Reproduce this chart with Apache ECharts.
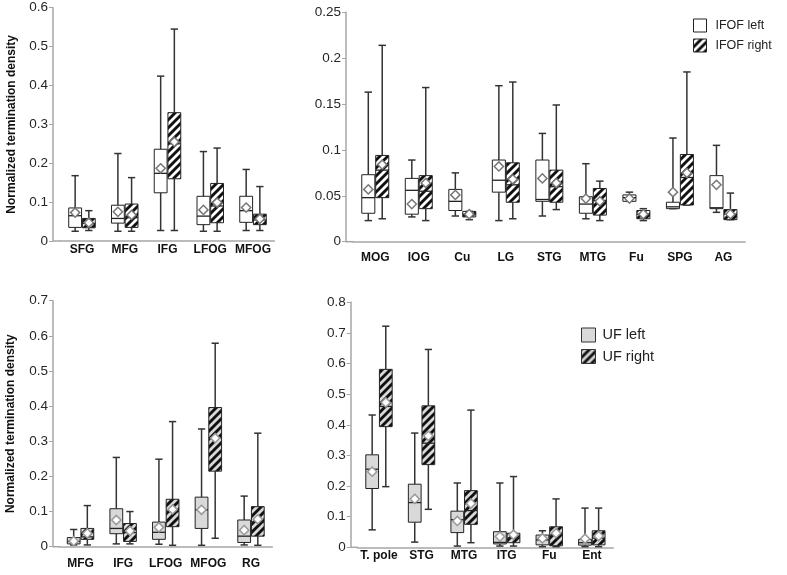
<!DOCTYPE html>
<html>
<head>
<meta charset="utf-8">
<script src="https://cdn.jsdelivr.net/npm/echarts@6/dist/echarts.min.js"></script>
<style>
html,body{margin:0;padding:0;background:#fff;}
#chart{width:787px;height:575px;}
</style>
</head>
<body>
<div id="chart"></div>
<script>
// ---- data: each row is [min, q1, median, q3, max, mean] ----
const cats1 = ['SFG','MFG','IFG','LFOG','MFOG'];
const ifofLeft1 = [
  [0.025,0.035,0.065,0.085,0.168,0.073],
  [0.025,0.046,0.058,0.092,0.225,0.075],
  [0.027,0.124,0.174,0.236,0.424,0.187],
  [0.025,0.042,0.064,0.115,0.230,0.080],
  [0.027,0.048,0.078,0.115,0.184,0.086]
];
const ifofRight1 = [
  [0.027,0.034,0.045,0.058,0.078,0.047],
  [0.025,0.035,0.060,0.095,0.163,0.067],
  [0.027,0.160,0.250,0.330,0.545,0.255],
  [0.025,0.047,0.090,0.148,0.239,0.099],
  [0.027,0.042,0.054,0.069,0.140,0.057]
];

const cats2 = ['MOG','IOG','Cu','LG','STG','MTG','Fu','SPG','AG'];
const ifofLeft2 = [
  [0.023,0.031,0.048,0.073,0.163,0.057],
  [0.027,0.030,0.056,0.069,0.089,0.041],
  [0.028,0.034,0.044,0.057,0.075,0.051],
  [0.023,0.054,0.067,0.089,0.170,0.082],
  [0.028,0.044,0.046,0.089,0.118,0.069],
  [0.025,0.031,0.041,0.049,0.085,0.047],
  [0.044,0.044,0.048,0.051,0.054,0.047],
  [0.036,0.036,0.038,0.043,0.113,0.054],
  [0.032,0.036,0.037,0.072,0.105,0.062]
];
const ifofRight2 = [
  [0.025,0.048,0.078,0.094,0.214,0.084],
  [0.023,0.036,0.055,0.072,0.168,0.064],
  [0.024,0.027,0.030,0.033,0.033,0.030],
  [0.025,0.043,0.062,0.086,0.174,0.068],
  [0.035,0.043,0.060,0.078,0.149,0.064],
  [0.023,0.029,0.045,0.058,0.066,0.044],
  [0.023,0.025,0.030,0.034,0.036,0.030],
  [0.040,0.040,0.070,0.095,0.185,0.075],
  [0.024,0.024,0.030,0.035,0.053,0.030]
];

const cats3 = ['MFG','IFG','LFOG','MFOG','RG'];
const ufLeft3 = [
  [0.005,0.008,0.015,0.026,0.049,0.016],
  [0.008,0.037,0.052,0.108,0.254,0.076],
  [0.007,0.021,0.041,0.070,0.249,0.055],
  [0.004,0.052,0.105,0.141,0.335,0.105],
  [0.005,0.012,0.030,0.076,0.144,0.047]
];
const ufRight3 = [
  [0.005,0.021,0.028,0.052,0.117,0.038],
  [0.008,0.015,0.040,0.066,0.100,0.045],
  [0.004,0.057,0.100,0.135,0.356,0.106],
  [0.024,0.215,0.310,0.396,0.579,0.309],
  [0.004,0.030,0.070,0.114,0.323,0.078]
];

const cats4 = ['T. pole','STG','MTG','ITG','Fu','Ent'];
const ufLeft4 = [
  [0.057,0.192,0.255,0.302,0.432,0.247],
  [0.017,0.082,0.146,0.206,0.373,0.158],
  [0.004,0.048,0.090,0.118,0.210,0.086],
  [0.004,0.011,0.016,0.051,0.210,0.035],
  [0.002,0.008,0.024,0.040,0.054,0.029],
  [0.002,0.007,0.015,0.026,0.128,0.028]
];
const ufRight4 = [
  [0.198,0.394,0.460,0.581,0.722,0.473],
  [0.124,0.270,0.340,0.462,0.646,0.364],
  [0.015,0.075,0.120,0.185,0.448,0.143],
  [0.004,0.015,0.030,0.046,0.231,0.041],
  [0.002,0.005,0.040,0.067,0.158,0.046],
  [0.002,0.008,0.030,0.054,0.128,0.037]
];

const yMax = [0.6, 0.25, 0.7, 0.8];
const yStep = [0.1, 0.05, 0.1, 0.1];
const yTitle = 'Normalized termination density';

// ---- styling helpers ----
const FONT = '"Liberation Sans", Arial, sans-serif';
const AXIS_GRAY = '#a6a6a6';
const UF_GRAY = '#d9d9d9';

function makeHatch(bg) {
  const s = 8;
  const c = document.createElement('canvas');
  c.width = s; c.height = s;
  const g = c.getContext('2d');
  g.fillStyle = bg; g.fillRect(0, 0, s, s);
  g.strokeStyle = '#111'; g.lineWidth = 2.9;
  g.beginPath();
  g.moveTo(0, s); g.lineTo(s, 0);
  g.moveTo(-s/2, s/2); g.lineTo(s/2, -s/2);
  g.moveTo(s/2, s*1.5); g.lineTo(s*1.5, s/2);
  g.stroke();
  return { image: c, repeat: 'repeat' };
}
const hatchWhite = makeHatch('#ffffff');
const hatchGray = makeHatch(UF_GRAY);

function toItems(rows) {
  return rows.map((r, i) => [i].concat(r));
}

function makeRender(side, fill, diamondStroke) {
  return function (params, api) {
    const idx = api.value(0);
    const v = [1,2,3,4,5,6].map(k => api.value(k));
    const base = api.coord([idx, 0]);
    const band = api.size([1, 0])[0];
    const cx = base[0] + side * band * 0.16;
    const bw = band * 0.30;
    const cap = band * 0.17;
    const Y = val => api.coord([idx, val])[1];
    const yMin = Y(v[0]), yQ1 = Y(v[1]), yMed = Y(v[2]), yQ3 = Y(v[3]), yMx = Y(v[4]), yMean = Y(v[5]);
    const wStyle = { stroke: '#333', lineWidth: 1.5 };
    const r = 4.6;
    return {
      type: 'group',
      children: [
        { type: 'line', shape: { x1: cx, y1: yMin, x2: cx, y2: yQ1 }, style: wStyle },
        { type: 'line', shape: { x1: cx, y1: yQ3, x2: cx, y2: yMx }, style: wStyle },
        { type: 'line', shape: { x1: cx - cap/2, y1: yMx, x2: cx + cap/2, y2: yMx }, style: wStyle },
        { type: 'line', shape: { x1: cx - cap/2, y1: yMin, x2: cx + cap/2, y2: yMin }, style: wStyle },
        { type: 'rect', shape: { x: cx - bw/2, y: yQ3, width: bw, height: Math.max(yQ1 - yQ3, 1) },
          style: { fill: fill, stroke: '#222', lineWidth: 1 } },
        { type: 'line', shape: { x1: cx - bw/2, y1: yMed, x2: cx + bw/2, y2: yMed }, style: { stroke: '#222', lineWidth: 1.3 } },
        { type: 'polygon', shape: { points: [[cx, yMean - r], [cx + r, yMean], [cx, yMean + r], [cx - r, yMean]] },
          style: { fill: '#fff', stroke: diamondStroke, lineWidth: 1.5 } }
      ]
    };
  };
}

const grids = [
  { left: 60.6, top: 7.7, width: 213.8, height: 233.3 },
  { left: 353.5, top: 12.3, width: 391.7, height: 229.4 },
  { left: 59.2, top: 300.7, width: 213.1, height: 246 },
  { left: 357.7, top: 302.3, width: 255.4, height: 245 }
];
const yOffsets = [7.6, 7.5, 6.2, 7];
const labelMargins = [3, 10, 11, 2];
const catsAll = [cats1, cats2, cats3, cats4];

const xAxes = catsAll.map((c, i) => ({
  type: 'category', gridIndex: i, data: c, boundaryGap: true,
  axisLine: { lineStyle: { color: AXIS_GRAY, width: 1.5 } },
  axisTick: { show: false },
  axisLabel: { color: '#111', fontFamily: FONT, fontSize: 12, fontWeight: 'bold', margin: labelMargins[i], interval: 0 },
  splitLine: { show: false }
}));

const yAxes = yMax.map((m, i) => ({
  type: 'value', gridIndex: i, min: 0, max: m, interval: yStep[i], offset: yOffsets[i],
  name: (i === 0 || i === 2) ? yTitle : '',
  nameLocation: 'middle', nameGap: 43 - yOffsets[i],
  nameTextStyle: { color: '#111', fontFamily: FONT, fontSize: 12, fontWeight: 'bold' },
  axisLine: { show: true, lineStyle: { color: AXIS_GRAY, width: 1.5 } },
  axisTick: { show: true, length: 4, lineStyle: { color: AXIS_GRAY, width: 1 } },
  axisLabel: { color: '#262626', fontFamily: FONT, fontSize: 13.5, margin: 5 },
  splitLine: { show: false }
}));

function series(name, rows, gi, side, fill, dStroke) {
  return {
    type: 'custom', name: name, xAxisIndex: gi, yAxisIndex: gi,
    renderItem: makeRender(side, fill, dStroke),
    encode: { x: 0, y: [1,2,3,4,5,6] },
    itemStyle: { color: fill, borderColor: '#222', borderWidth: 1 },
    data: toItems(rows)
  };
}

const option = {
  animation: false,
  backgroundColor: '#fff',
  grid: grids,
  xAxis: xAxes,
  yAxis: yAxes,
  legend: [
    {
      orient: 'vertical', left: 688, top: 13.5, itemWidth: 13, itemHeight: 13, itemGap: 6,
      textStyle: { color: '#222', fontFamily: FONT, fontSize: 12.5, padding: [0,0,0,4] },
      selectedMode: false,
      data: [
        { name: 'IFOF left', icon: 'rect', itemStyle: { color: '#fff', borderColor: '#222', borderWidth: 1 } },
        { name: 'IFOF right', icon: 'rect', itemStyle: { color: hatchWhite, borderColor: '#222', borderWidth: 1 } }
      ]
    },
    {
      orient: 'vertical', left: 576, top: 322.5, itemWidth: 14, itemHeight: 14, itemGap: 6.5,
      textStyle: { color: '#222', fontFamily: FONT, fontSize: 14.5, padding: [0,0,0,2] },
      selectedMode: false,
      data: [
        { name: 'UF left', icon: 'rect', itemStyle: { color: UF_GRAY, borderColor: '#333', borderWidth: 1 } },
        { name: 'UF right', icon: 'rect', itemStyle: { color: hatchGray, borderColor: '#333', borderWidth: 1 } }
      ]
    }
  ],
  graphic: [
    { type: 'line', shape: { x1: 53, y1: 241, x2: 61, y2: 241 }, style: { stroke: AXIS_GRAY, lineWidth: 1.5 } },
    { type: 'line', shape: { x1: 346, y1: 241.7, x2: 354, y2: 241.7 }, style: { stroke: AXIS_GRAY, lineWidth: 1.5 } },
    { type: 'line', shape: { x1: 53, y1: 546.7, x2: 60, y2: 546.7 }, style: { stroke: AXIS_GRAY, lineWidth: 1.5 } },
    { type: 'line', shape: { x1: 350.7, y1: 547.3, x2: 358, y2: 547.3 }, style: { stroke: AXIS_GRAY, lineWidth: 1.5 } }
  ],
  series: [
    series('IFOF left', ifofLeft1, 0, -1, '#fff', '#777'),
    series('IFOF right', ifofRight1, 0, 1, hatchWhite, '#777'),
    series('IFOF left', ifofLeft2, 1, -1, '#fff', '#777'),
    series('IFOF right', ifofRight2, 1, 1, hatchWhite, '#777'),
    series('UF left', ufLeft3, 2, -1, UF_GRAY, '#999'),
    series('UF right', ufRight3, 2, 1, hatchGray, '#999'),
    series('UF left', ufLeft4, 3, -1, UF_GRAY, '#999'),
    series('UF right', ufRight4, 3, 1, hatchGray, '#999')
  ]
};

const chart = echarts.init(document.getElementById('chart'), null, { renderer: 'canvas' });
chart.setOption(option);
</script>
</body>
</html>
